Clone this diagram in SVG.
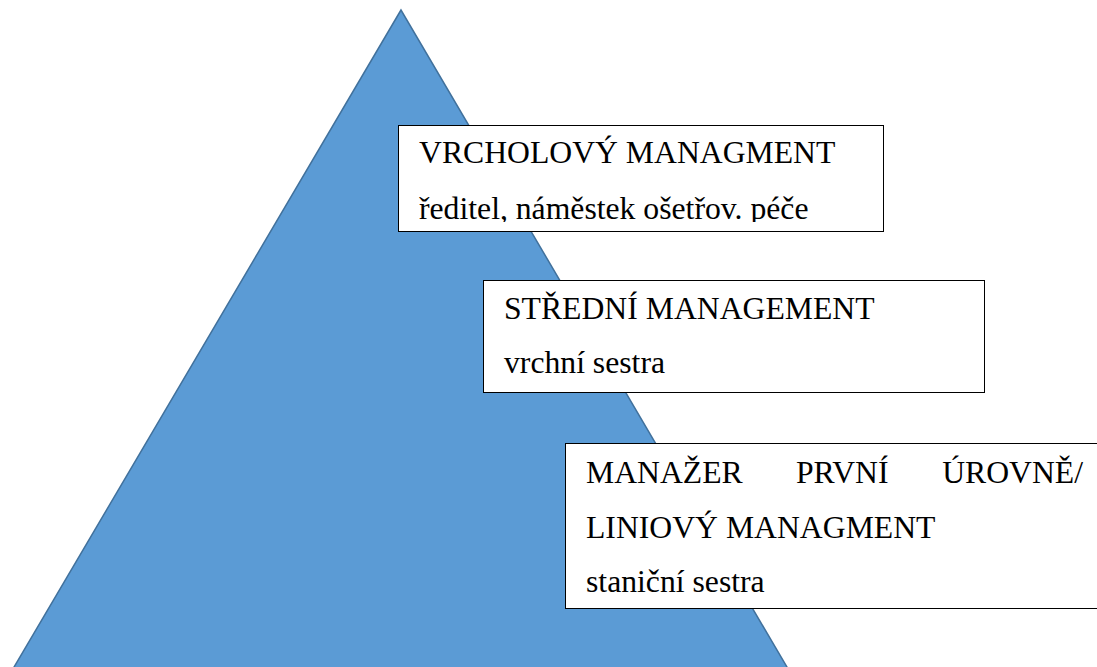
<svg xmlns="http://www.w3.org/2000/svg" width="1097" height="667" viewBox="0 0 1097 667">
  <style>
    .tri { fill: #5B9BD5; stroke: #41719C; stroke-width: 1.5; }
    .box { fill: #FFFFFF; stroke: #000000; stroke-width: 1; }
    .t { font-family: "Liberation Serif", "Times New Roman", serif; font-size: 31.7px; fill: #000000; }
  </style>
  <defs>
    <!-- text area of the top box: the second line overflows and is cut off -->
    <clipPath id="topText">
      <rect x="399" y="126" width="484" height="96"/>
    </clipPath>
  </defs>
  <rect width="1097" height="667" fill="#FFFFFF"/>
  <!-- pyramid -->
  <g id="pyramid">
    <polygon class="tri" points="401,10 7,679 794,679"/>
  </g>
  <!-- top level -->
  <g id="top">
    <rect class="box" x="398.5" y="125.5" width="485" height="106"/>
    <g clip-path="url(#topText)">
      <text class="t" x="419" y="163">VRCHOLOVÝ MANAGMENT</text>
      <text class="t" x="419" y="219">ředitel, náměstek ošetřov. péče</text>
    </g>
  </g>
  <!-- middle level -->
  <g id="middle">
    <rect class="box" x="483.5" y="280.5" width="501" height="112"/>
    <text class="t" x="504" y="319">STŘEDNÍ MANAGEMENT</text>
    <text class="t" x="504" y="373">vrchní sestra</text>
  </g>
  <!-- first-line level -->
  <g id="first-line">
    <rect class="box" x="565.5" y="443.5" width="540" height="165"/>
    <text class="t" x="586" y="483">MANAŽER</text>
    <text class="t" x="796" y="483">PRVNÍ</text>
    <text class="t" x="1083" y="483" text-anchor="end">ÚROVNĚ/</text>
    <text class="t" x="586" y="538">LINIOVÝ MANAGMENT</text>
    <text class="t" x="586" y="592">staniční sestra</text>
  </g>
  <g id="connectors"/>
</svg>
